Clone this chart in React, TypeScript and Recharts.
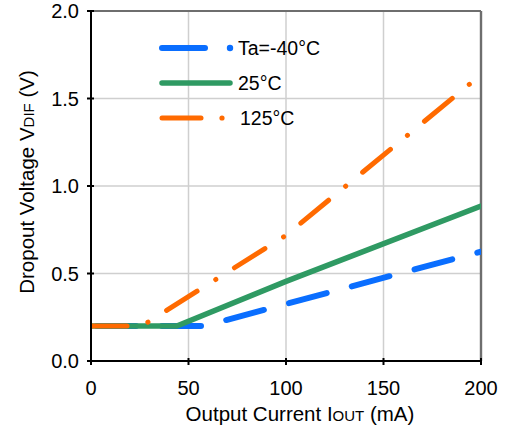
import React from "react";
import {
  LineChart,
  Line,
  XAxis,
  YAxis,
  CartesianGrid,
  ReferenceLine,
} from "recharts";

const xTicks = [0, 50, 100, 150, 200];
const yTicks = [0, 0.5, 1.0, 1.5, 2.0];

const blueX = [0, 58, 200];
const blueV = [0.2, 0.2, 0.625];
const greenX = [0, 44, 100, 200];
const greenV = [0.2, 0.2, 0.455, 0.885];
const orangeX = [0, 26, 100, 200];
const orangeV = [0.2, 0.2, 0.718, 1.636];

const seriesNames = ["Ta=-40°C", "25°C", "125°C"];
const seriesColors = ["#0A6EFF", "#2F9A63", "#FF6A00"];

const toPoints = (xs: number[], vs: number[]) =>
  xs.map((x, i) => ({ x, v: vs[i] }));

const blueData = toPoints(blueX, blueV);
const greenData = toPoints(greenX, greenV);
const orangeData = toPoints(orangeX, orangeV);

const FONT = "'Liberation Sans', Arial, sans-serif";

const LegendBox = () => (
  <svg
    width={220}
    height={110}
    style={{ position: "absolute", left: 150, top: 30, overflow: "visible" }}
  >
    <line x1={12} y1={18} x2={55} y2={18} stroke={seriesColors[0]} strokeWidth={6} strokeLinecap="round" />
    <circle cx={80} cy={18} r={3.2} fill={seriesColors[0]} />
    <text x={88} y={25} fontSize={19.5} fontFamily={FONT} fill="#000">{seriesNames[0]}</text>
    <line x1={12} y1={53} x2={80} y2={53} stroke={seriesColors[1]} strokeWidth={5.5} strokeLinecap="round" />
    <text x={88} y={60} fontSize={19.5} fontFamily={FONT} fill="#000">{seriesNames[1]}</text>
    <line x1={12} y1={88} x2={51} y2={88} stroke={seriesColors[2]} strokeWidth={5} strokeLinecap="round" />
    <circle cx={72} cy={88} r={2.6} fill={seriesColors[2]} />
    <text x={90} y={95} fontSize={19.5} fontFamily={FONT} fill="#000">{seriesNames[2]}</text>
  </svg>
);

const XTick = (props: any) => {
  const { x, y, payload } = props;
  const axisY = y - 16;
  return (
    <g>
      <line x1={x} y1={axisY - 7} x2={x} y2={axisY} stroke="#000" strokeWidth={2} />
      <text x={x} y={y + 14} textAnchor="middle" fontSize={20} fontFamily={FONT} fill="#000">
        {payload.value}
      </text>
    </g>
  );
};

const YTick = (props: any) => {
  const { x, y, payload } = props;
  const axisX = x + 4;
  return (
    <g>
      <line x1={axisX} y1={y} x2={axisX + 7} y2={y} stroke="#000" strokeWidth={2} />
      <text x={x - 4} y={y + 7} textAnchor="end" fontSize={20} fontFamily={FONT} fill="#000">
        {Number(payload.value).toFixed(1)}
      </text>
    </g>
  );
};

const XTitle = (props: any) => {
  const vb = props.viewBox || { x: 91, y: 361, width: 390 };
  const cx = vb.x + vb.width / 2 + 14;
  return (
    <text x={cx} y={vb.y + 60} textAnchor="middle" fontSize={20.5} fontFamily={FONT} fill="#000">
      <tspan>Output Current I</tspan>
      <tspan fontSize={15}>OUT</tspan>
      <tspan> (mA)</tspan>
    </text>
  );
};

const YTitle = (props: any) => {
  const vb = props.viewBox || { x: 0, y: 11, width: 91, height: 350 };
  const cy = vb.y + vb.height / 2 - 4;
  const bx = 34;
  return (
    <text
      x={bx}
      y={cy}
      transform={`rotate(-90 ${bx} ${cy})`}
      textAnchor="middle"
      fontSize={20.5}
      fontFamily={FONT}
      fill="#000"
    >
      <tspan>Dropout Voltage V</tspan>
      <tspan fontSize={15}>DIF</tspan>
      <tspan> (V)</tspan>
    </text>
  );
};

export default function App() {
  return (
    <div style={{ position: "absolute", left: 0, top: 0, width: 507, height: 439 }}>
      <LineChart
        width={507}
        height={439}
        margin={{ top: 11, right: 26, bottom: 0, left: 0 }}
      >
        <CartesianGrid stroke="#cfcfcf" strokeWidth={1.5} />
        <ReferenceLine y={2} stroke="#6e6e6e" strokeWidth={1.8} />
        <ReferenceLine x={200} stroke="#6e6e6e" strokeWidth={2.4} />
        <Line
          data={blueData}
          dataKey="v"
          name={seriesNames[0]}
          type="linear"
          stroke={seriesColors[0]}
          strokeWidth={6}
          strokeLinecap="round"
          strokeDasharray="39 26"
          strokeDashoffset={-6}
          dot={false}
          activeDot={false}
          isAnimationActive={false}
        />
        <Line
          data={greenData}
          dataKey="v"
          name={seriesNames[1]}
          type="linear"
          stroke={seriesColors[1]}
          strokeWidth={5.5}
          strokeLinecap="round"
          dot={false}
          activeDot={false}
          isAnimationActive={false}
        />
        <Line
          data={orangeData}
          dataKey="v"
          name={seriesNames[2]}
          type="linear"
          stroke={seriesColors[2]}
          strokeWidth={5}
          strokeLinecap="round"
          strokeDasharray="36 22 0.1 22"
          dot={false}
          activeDot={false}
          isAnimationActive={false}
        />
        <XAxis
          type="number"
          dataKey="x"
          domain={[0, 200]}
          ticks={xTicks}
          allowDataOverflow
          height={78}
          tickLine={false}
          tickMargin={14}
          axisLine={{ stroke: "#000", strokeWidth: 2 }}
          tick={<XTick />}
          label={<XTitle />}
        />
        <YAxis
          type="number"
          dataKey="v"
          domain={[0, 2]}
          ticks={yTicks}
          allowDataOverflow
          width={91}
          tickLine={false}
          tickMargin={2}
          axisLine={{ stroke: "#000", strokeWidth: 2 }}
          tick={<YTick />}
          label={<YTitle />}
        />
      </LineChart>
      <LegendBox />
    </div>
  );
}
